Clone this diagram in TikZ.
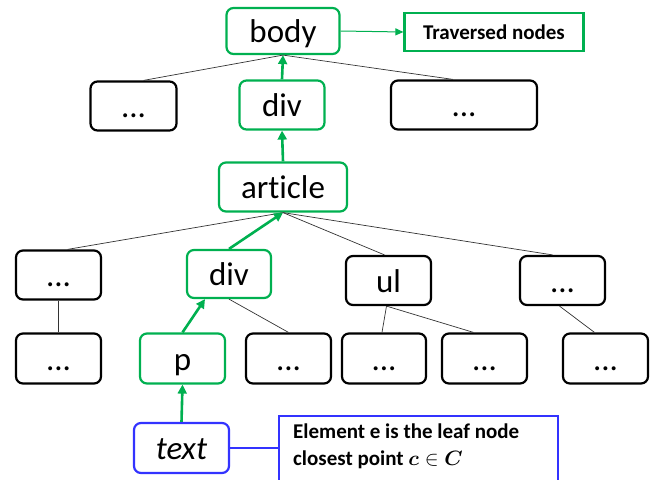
\documentclass[tikz,border=0pt]{standalone}
\usepackage{fontspec}
\setmainfont{Carlito}[Ligatures=NoCommon]
\usepackage{amsmath,bm}
\usetikzlibrary{arrows.meta}
\definecolor{tgreen}{RGB}{0,176,80}
\definecolor{tblue}{RGB}{51,51,255}
\tikzset{
  tbox/.style={draw=black, line width=2.2pt, rounded corners=7pt, inner sep=0pt, text height=23pt, text depth=0pt, font=\fontsize{33}{35}\selectfont},
  gbox/.style={tbox, draw=tgreen},
  bbox/.style={tbox, draw=tblue},
  thin/.style={line width=0.7pt, draw=black!80},
  garrow/.style={line width=2.6pt, draw=tgreen, -{Triangle[length=9pt,width=9pt]}},
}
\begin{document}
\begin{tikzpicture}[x=1pt,y=-1pt]
\useasboundingbox (0,0) rectangle (657,480);
% row 0
\node[gbox, minimum width=113pt, minimum height=46pt] (body) at (283,31) {body};
\node[draw=tgreen, line width=2.2pt, minimum width=179pt, minimum height=38pt, inner sep=0pt, font=\fontsize{21}{22}\selectfont\bfseries] (trav) at (494,32) {Traversed nodes};
% row 1
\node[tbox, minimum width=86pt, minimum height=49pt] (l1) at (133.5,106) {...};
\node[gbox, minimum width=85pt, minimum height=49pt] (div1) at (282,105) {div};
\node[tbox, minimum width=146pt, minimum height=49pt] (r1) at (464,105) {...};
% row 2
\node[gbox, minimum width=128pt, minimum height=49pt] (article) at (283,187) {article};
% row 3
\node[tbox, minimum width=85pt, minimum height=49pt] (a3) at (58.5,275) {...};
\node[gbox, minimum width=84pt, minimum height=48pt] (div3) at (229,274) {div};
\node[tbox, minimum width=85pt, minimum height=49pt] (ul) at (388.5,280.5) {ul};
\node[tbox, minimum width=85pt, minimum height=49pt] (d3) at (562.5,280.5) {...};
% row 4
\node[tbox, minimum width=85pt, minimum height=50pt] (a4) at (58.5,358.5) {...};
\node[gbox, minimum width=85pt, minimum height=50pt] (p) at (182.5,358.5) {p};
\node[tbox, minimum width=85pt, minimum height=50pt] (b4) at (288.5,358.5) {...};
\node[tbox, minimum width=84pt, minimum height=50pt] (c4) at (384,358.5) {...};
\node[tbox, minimum width=85pt, minimum height=50pt] (d4) at (484.5,358.5) {...};
\node[tbox, minimum width=85pt, minimum height=50pt] (e4) at (605.5,358.5) {...};
% row 5
\node[bbox, minimum width=95pt, minimum height=50pt, font=\fontsize{33}{35}\selectfont\itshape] (text) at (181.5,448) {text};
\node[draw=tblue, line width=2.2pt, minimum width=279pt, minimum height=68pt, inner sep=0pt, anchor=north west] (note) at (278,415) {};
\node[anchor=north west, align=left, font=\fontsize{21}{27}\selectfont\bfseries, inner sep=0pt] (notetext) at (293,424) {Element e is the leaf node\\closest point $\bm{c}\in\bm{C}$};
% connectors
\draw[line width=1pt, draw=tgreen, -{Triangle[length=8pt,width=7pt]}] (body.east) -- (trav.west);
\draw[thin] (body.south) -- ([xshift=10pt]l1.north);
\draw[thin] (body.south) -- ([xshift=-11pt]r1.north);
\draw[garrow] (div1.north) -- (body.south);
\draw[garrow] (article.north) -- (div1.south);
\draw[thin] (article.south) -- ([xshift=9pt]a3.north);
\draw[thin] (article.south) -- ([xshift=-4pt]ul.north);
\draw[thin] (article.south) -- ([xshift=-10pt]d3.north);
\draw[garrow] (div3.north) -- (article.south);
\draw[thin] (a3.south) -- (a4.north);
\draw[thin] (div3.south) -- (b4.north);
\draw[garrow] (p.north) -- ([xshift=-24pt]div3.south);
\draw[thin] ([xshift=-2pt]ul.south) -- ([xshift=-2pt]c4.north);
\draw[thin] ([xshift=-2pt]ul.south) -- ([xshift=-11pt]d4.north);
\draw[thin] ([xshift=-3pt]d3.south) -- ([xshift=-11pt]e4.north);
\draw[garrow] (text.north) -- (p.south);
\draw[line width=2pt, draw=tblue] (text.east) -- (note.west |- text.east);
\end{tikzpicture}
\end{document}
